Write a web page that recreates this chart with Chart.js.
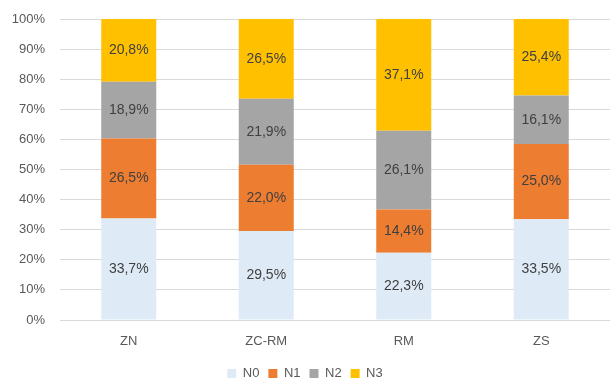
<!DOCTYPE html>
<html>
<head>
<meta charset="utf-8">
<script src="https://cdn.jsdelivr.net/npm/chart.js@4/dist/chart.umd.min.js"></script>
<style>
html,body{margin:0;padding:0;background:#fff;}
#wrap{width:610px;height:381px;position:relative;}
</style>
</head>
<body>
<div id="wrap"><canvas id="c" width="610" height="381"></canvas></div>
<script>
const categories = ["ZN", "ZC-RM", "RM", "ZS"];
const seriesNames = ["N0", "N1", "N2", "N3"];
const n0 = [33.7, 29.5, 22.3, 33.5];
const n1 = [26.5, 22.0, 14.4, 25.0];
const n2 = [18.9, 21.9, 26.1, 16.1];
const n3 = [20.8, 26.5, 37.1, 25.4];
const yTicks = [0, 10, 20, 30, 40, 50, 60, 70, 80, 90, 100];
const colors = ["#DEEBF7", "#ED7D31", "#A5A5A5", "#FFC000"];

const allSeries = [n0, n1, n2, n3];
// 100% stacked: normalise each category
const totals = categories.map((_, i) => allSeries.reduce((s, a) => s + a[i], 0));
const FONT = '"Liberation Sans", Arial, sans-serif';

const labelPlugin = {
  id: 'barLabels',
  afterDatasetsDraw(chart) {
    const ctx = chart.ctx;
    ctx.save();
    ctx.font = '14px ' + FONT;
    ctx.fillStyle = '#404040';
    ctx.textAlign = 'center';
    ctx.textBaseline = 'middle';
    chart.data.datasets.forEach((ds, di) => {
      const meta = chart.getDatasetMeta(di);
      meta.data.forEach((el, i) => {
        const p = el.getProps(['x', 'y', 'base'], true);
        const txt = ds.raw[i].toFixed(1).replace('.', ',') + '%';
        ctx.fillText(txt, p.x, (p.y + p.base) / 2);
      });
    });
    ctx.restore();
  }
};

new Chart(document.getElementById('c'), {
  type: 'bar',
  data: {
    labels: categories,
    datasets: seriesNames.map((name, k) => ({
      label: name,
      raw: allSeries[k],
      data: allSeries[k].map((v, i) => v / totals[i] * 100),
      backgroundColor: colors[k],
      borderWidth: 0,
      categoryPercentage: 0.8,
      barPercentage: 0.5
    }))
  },
  options: {
    responsive: false,
    animation: false,
    layout: { padding: { top: 19, right: 0, left: 0, bottom: -9 } },
    plugins: {
      legend: {
        position: 'bottom',
        labels: {
          boxWidth: 9, boxHeight: 9, padding: 9,
          color: '#595959',
          font: { family: FONT, size: 13 }
        }
      },
      tooltip: { enabled: false }
    },
    scales: {
      x: {
        stacked: true,
        grid: { display: false, drawTicks: false },
        border: { color: '#D9D9D9' },
        ticks: { color: '#595959', padding: 14, font: { family: FONT, size: 13 } },
        afterFit(s) { s.height = 38; }
      },
      y: {
        stacked: true,
        min: 0, max: 100,
        afterBuildTicks(s) { s.ticks = yTicks.map(v => ({ value: v })); },
        grid: { color: '#D9D9D9', drawTicks: false },
        border: { display: false },
        ticks: {
          color: '#595959', padding: 15,
          font: { family: FONT, size: 13 },
          callback: v => v + '%'
        },
        afterFit(s) { s.width = 60; s.paddingTop = 0; s.paddingBottom = 0; }
      }
    }
  },
  plugins: [labelPlugin]
});
</script>
</body>
</html>
